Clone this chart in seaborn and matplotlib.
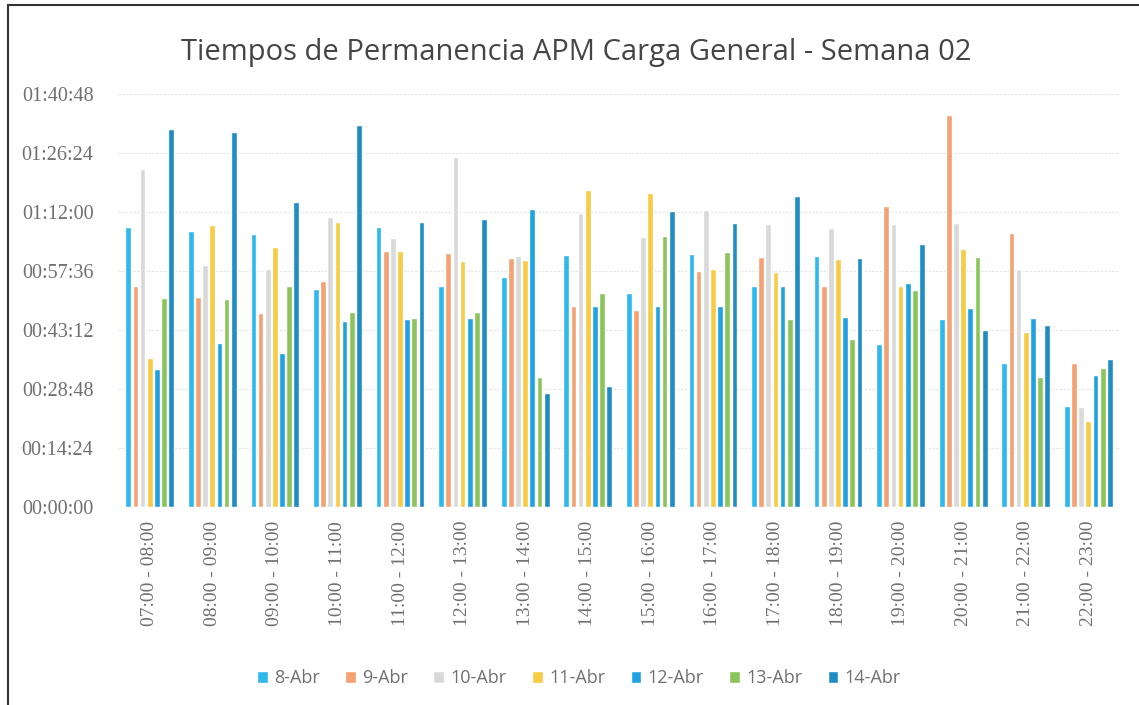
import numpy as np
import pandas as pd
import seaborn as sns
import matplotlib.pyplot as plt
from matplotlib.ticker import FuncFormatter, MultipleLocator
from matplotlib.patches import Rectangle

# franjas horarias
franjas = ['07:00 - 08:00', '08:00 - 09:00', '09:00 - 10:00', '10:00 - 11:00',
           '11:00 - 12:00', '12:00 - 13:00', '13:00 - 14:00', '14:00 - 15:00',
           '15:00 - 16:00', '16:00 - 17:00', '17:00 - 18:00', '18:00 - 19:00',
           '19:00 - 20:00', '20:00 - 21:00', '21:00 - 22:00', '22:00 - 23:00']
dias = ['8-Abr', '9-Abr', '10-Abr', '11-Abr', '12-Abr', '13-Abr', '14-Abr']

# tiempos de permanencia en minutos
abr08 = [68.2, 67.2, 66.7, 53.2, 68.2, 53.9, 56.2, 61.5, 52.1, 61.7, 53.8, 61.3, 39.7, 45.9, 35.0, 24.6]
abr09 = [53.9, 51.3, 47.2, 55.0, 62.5, 61.9, 60.7, 48.9, 48.0, 57.6, 60.9, 54.0, 73.3, 95.7, 66.9, 35.2]
abr10 = [82.4, 59.0, 58.1, 70.7, 65.7, 85.3, 61.2, 71.7, 65.8, 72.5, 69.1, 68.0, 69.1, 69.2, 58.1, 24.4]
abr11 = [36.4, 68.7, 63.4, 69.6, 62.5, 60.1, 60.3, 77.4, 76.7, 58.1, 57.3, 60.5, 53.8, 63.0, 42.6, 21.0]
abr12 = [33.6, 40.1, 37.6, 45.4, 45.9, 46.2, 72.7, 49.1, 49.1, 49.1, 53.8, 46.4, 54.6, 48.6, 46.0, 32.2]
abr13 = [50.9, 50.7, 53.8, 47.6, 46.2, 47.5, 31.8, 52.3, 66.2, 62.3, 45.8, 40.9, 52.8, 60.9, 31.6, 34.0]
abr14 = [92.3, 91.5, 74.4, 93.1, 69.4, 70.2, 27.7, 29.5, 72.3, 69.2, 75.9, 60.8, 64.2, 43.2, 44.5, 36.1]

colores = ['#2DB8EE', '#F4A273', '#D9D9D9', '#F8CB45', '#1FA2E2', '#8BC45A', '#1F8DC4']

series = [abr08, abr09, abr10, abr11, abr12, abr13, abr14]
df = pd.DataFrame({
    'franja': franjas * len(dias),
    'dia': np.repeat(dias, len(franjas)),
    'segundos': np.concatenate(series) * 60,
})


def hms(x, pos):
    x = int(round(x))
    return f'{x // 3600:02d}:{(x % 3600) // 60:02d}:{x % 60:02d}'


sns.set_style('white')
plt.rcParams['font.family'] = ['Open Sans', 'DejaVu Sans']

fig = plt.figure(figsize=(11.39, 7.05), dpi=100)
ax = fig.add_axes([0.104, 0.281, 0.879, 0.586])

sns.barplot(data=df, x='franja', y='segundos', hue='dia', palette=colores,
            order=franjas, hue_order=dias, width=0.8, gap=0.2, ax=ax,
            errorbar=None, saturation=1, legend=True)

ax.set_ylim(0, 6048)
ax.yaxis.set_major_locator(MultipleLocator(864))
ax.yaxis.set_major_formatter(FuncFormatter(hms))
ax.set_xlim(-0.5, len(franjas) - 0.5)
ax.grid(axis='y', color='#E4E8EA', linestyle=(0, (2, 1)), linewidth=0.9)
ax.set_axisbelow(True)
for s in ax.spines.values():
    s.set_visible(False)
ax.set_xlabel('')
ax.set_ylabel('')
ax.tick_params(axis='both', length=0, colors='#707070')
for lbl in ax.get_yticklabels():
    lbl.set_family('Liberation Serif')
    lbl.set_fontsize(14.5)
plt.setp(ax.get_xticklabels(), rotation=90, fontsize=14, family='Liberation Serif')
ax.tick_params(axis='x', pad=10)
ax.tick_params(axis='y', pad=18)

ax.set_title('Tiempos de Permanencia APM Carga General - Semana 02',
             fontsize=21, color='#454545', pad=24, x=0.457)

ax.legend(loc='center', bbox_to_anchor=(0.46, -0.415), ncol=7, frameon=False,
          handlelength=0.6, handleheight=0.7, handletextpad=0.35, columnspacing=1.4,
          prop={'size': 13}, labelcolor='#707070')

fig.patches.append(Rectangle((0.007, -0.01), 1.2, 1.003, transform=fig.transFigure,
                             fill=False, edgecolor='#333333', linewidth=1.5))

fig.savefig('out.png', dpi=100)
